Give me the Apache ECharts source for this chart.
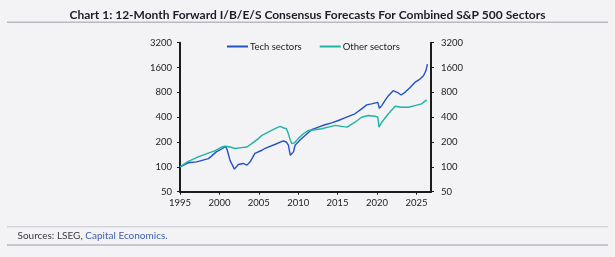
<!DOCTYPE html>
<html>
<head>
<meta charset="utf-8">
<script src="https://cdn.jsdelivr.net/npm/echarts@6/dist/echarts.min.js"></script>
<style>
  html, body { margin: 0; padding: 0; background: #f3f3f6; }
  #chart { width: 615px; height: 257px; }
</style>
</head>
<body>
<div id="chart"></div>
<script>
// dates as decimal years, values indexed to 100 in 1995
var techDates = [1995.0, 1996.05, 1997.1, 1997.8, 1998.0, 1998.6, 1999.0, 1999.6, 2000.4, 2000.8,
  2001.0, 2001.35, 2001.9, 2002.4, 2003.0, 2003.5, 2003.9, 2004.5, 2005.4, 2005.8,
  2007.1, 2008.1, 2008.5, 2008.75, 2009.0, 2009.2, 2009.4, 2009.6, 2010.2, 2010.9,
  2011.7, 2012.55, 2013.4, 2014.25, 2015.1, 2015.9, 2017.2, 2018.05, 2018.7, 2019.3,
  2020.1, 2020.3, 2020.6, 2021.0, 2021.45, 2022.05, 2022.3, 2022.7, 2023.05, 2023.55,
  2024.2, 2024.8, 2025.45, 2025.9, 2026.2, 2026.4];
var techValues = [100, 112, 115, 120, 114, 126, 135, 152, 167, 178,
  159, 120, 94, 107, 110, 105, 115, 146, 159, 168,
  188, 206, 200, 183, 138, 132, 152, 183, 210, 241,
  282, 303, 324, 342, 365, 393, 440, 505, 564, 580,
  606, 513, 553, 636, 730, 839, 855, 787, 744, 800,
  919, 1056, 1160, 1271, 1460, 1759];

var otherDates = [1995.0, 1996.0, 1997.3, 1998.6, 1999.4, 2000.3, 2000.7, 2001.35, 2002.0, 2002.8,
  2003.5, 2004.1, 2004.95, 2005.4, 2006.2, 2007.05, 2007.7, 2008.1, 2008.5, 2008.75,
  2009.0, 2009.2, 2009.5, 2010.0, 2010.65, 2011.3, 2012.1, 2013.0, 2013.8, 2014.7,
  2015.5, 2016.2, 2017.2, 2018.05, 2018.9, 2019.75, 2020.1, 2020.25, 2020.6, 2021.45,
  2022.3, 2023.1, 2024.0, 2024.8, 2025.65, 2026.3];
var otherValues = [100, 116, 132, 147, 156, 174, 178, 174, 167, 171,
  174, 191, 220, 241, 264, 290, 309, 298, 290, 252,
  210, 191, 195, 220, 252, 277, 282, 290, 303, 318,
  310, 303, 348, 400, 419, 411, 400, 303, 348, 440,
  543, 528, 528, 553, 580, 648];

var yTicks = [50, 100, 200, 400, 800, 1600, 3200];
var xTicks = [1995, 2000, 2005, 2010, 2015, 2020, 2025];

function pairs(xs, ys) {
  var out = [];
  for (var i = 0; i < xs.length; i++) {
    out.push([xs[i], ys[i]]);
  }
  return out;
}

function plain(v) {
  return String(Math.round(v));
}

var font = 'Lato';
var axisColor = '#1b1b1b';

var chart = echarts.init(document.getElementById('chart'));

function yAxisFor(pos, margin) {
  return {
    type: 'log',
    logBase: 2,
    position: pos,
    min: 50,
    max: 3200,
    axisLine: { show: true, lineStyle: { color: axisColor, width: 2 } },
    axisTick: { show: true, length: 3, customValues: yTicks, lineStyle: { color: axisColor, width: 1 } },
    axisLabel: { customValues: yTicks, formatter: plain, margin: margin, color: '#222', fontSize: 9.5, fontFamily: font },
    splitLine: { show: false }
  };
}

chart.setOption({
  backgroundColor: '#f3f3f6',
  animation: false,
  title: {
    text: 'Chart 1: 12-Month Forward I/B/E/S Consensus Forecasts For Combined S&P 500 Sectors',
    left: 'center',
    top: 4,
    textStyle: { fontFamily: font, fontWeight: 'bold', fontSize: 12, color: '#1c1c2a' }
  },
  legend: {
    left: 222,
    top: 36.5,
    itemWidth: 21,
    itemHeight: 2,
    itemGap: 18,
    icon: 'rect',
    textStyle: { fontFamily: font, fontSize: 9.5, color: '#222', padding: [0, 0, 0, -3] },
    data: ['Tech sectors', 'Other sectors']
  },
  grid: { left: 180, right: 184, top: 42.7, bottom: 65.3 },
  xAxis: {
    type: 'value',
    min: 1995,
    max: 2026.85,
    interval: 5,
    axisLine: { show: true, lineStyle: { color: axisColor, width: 2 } },
    axisTick: { show: true, length: 3, customValues: xTicks, lineStyle: { color: axisColor, width: 1 } },
    axisLabel: { customValues: xTicks, formatter: plain, margin: 6, color: '#222', fontSize: 9.5, fontFamily: font },
    splitLine: { show: false }
  },
  yAxis: [yAxisFor('left', 8), yAxisFor('right', 10)],
  series: [
    {
      name: 'Tech sectors',
      type: 'line',
      data: pairs(techDates, techValues),
      showSymbol: false,
      color: '#2352c6',
      lineStyle: { width: 1.4 }
    },
    {
      name: 'Other sectors',
      type: 'line',
      data: pairs(otherDates, otherValues),
      showSymbol: false,
      color: '#1fb4a2',
      lineStyle: { width: 1.4 }
    }
  ],
  graphic: [
    { type: 'rect', shape: { x: 7, y: 21.5, width: 601, height: 1.5 }, style: { fill: '#b9b9c2' } },
    { type: 'rect', shape: { x: 7, y: 226.2, width: 601, height: 1 }, style: { fill: '#c4c4cc' } },
    { type: 'rect', shape: { x: 7, y: 244.3, width: 601, height: 1.5 }, style: { fill: '#b9b9c2' } },
    {
      type: 'text', left: 17.5, top: 230.5,
      style: {
        text: '{a|Sources: LSEG, }{b|Capital Economics.}',
        rich: {
          a: { fontFamily: font, fontSize: 10, fill: '#3a3a44' },
          b: { fontFamily: font, fontSize: 10, fill: '#3f5fae' }
        }
      }
    }
  ]
});
</script>
</body>
</html>
